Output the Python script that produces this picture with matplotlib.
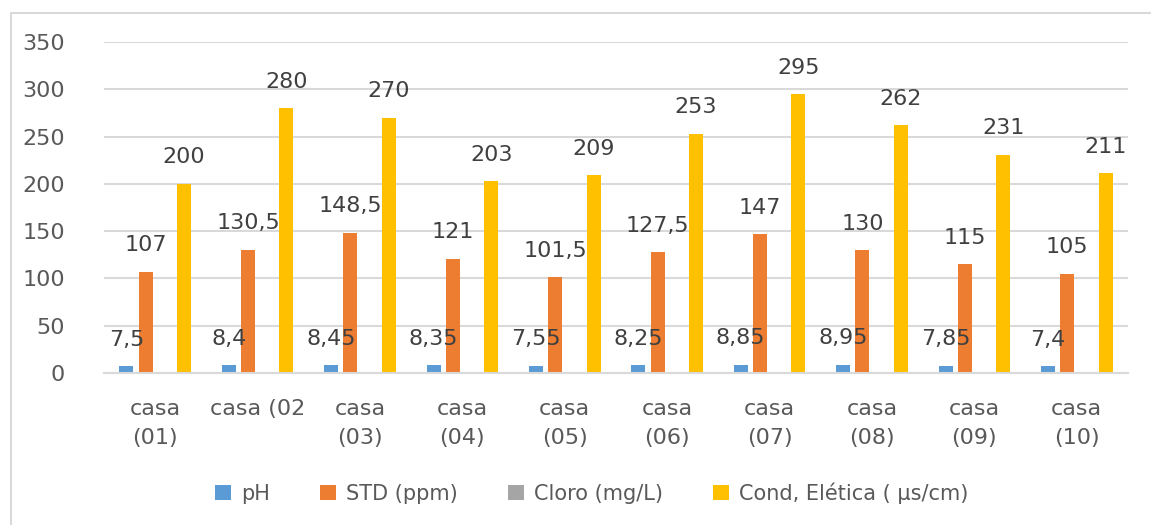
import numpy as np
import matplotlib.pyplot as plt
from matplotlib.lines import Line2D

plt.rcParams['font.family'] = ['DejaVu Sans']

categories = ['casa\n(01)', 'casa (02', 'casa\n(03)', 'casa\n(04)', 'casa\n(05)',
              'casa\n(06)', 'casa\n(07)', 'casa\n(08)', 'casa\n(09)', 'casa\n(10)']
ph = [7.5, 8.4, 8.45, 8.35, 7.55, 8.25, 8.85, 8.95, 7.85, 7.4]
std = [107, 130.5, 148.5, 121, 101.5, 127.5, 147, 130, 115, 105]
cloro = [np.nan] * 10
cond = [200, 280, 270, 203, 209, 253, 295, 262, 231, 211]

series = [('pH', ph, '#5B9BD5'),
          ('STD (ppm)', std, '#ED7D31'),
          ('Cloro (mg/L)', cloro, '#A5A5A5'),
          ('Cond, Elética ( µs/cm)', cond, '#FFC000')]


def fmt(v):
    s = ('%.2f' % v).rstrip('0').rstrip('.')
    return s.replace('.', ',')


fig = plt.figure(figsize=(11.51, 5.25), dpi=100)
# outer chart border (only left and top fall inside the image)
bx, by = 11 / 1151, 1 - 13 / 525
fig.lines.append(Line2D([bx, bx, 1.0], [0.0, by, by], transform=fig.transFigure,
                        color='#D9D9D9', linewidth=1.5))
ax = fig.add_axes([104 / 1151, 1 - 373 / 525, 1024 / 1151, 331 / 525])

x = np.arange(len(categories))
step = 0.188
width = 0.137
for i, (name, vals, col) in enumerate(series):
    pos = x + (i - 1.5) * step
    ax.bar(pos, vals, width, color=col, label=name)
    for p, v in zip(pos, vals):
        if np.isnan(v):
            continue
        ax.annotate(fmt(v), (p, v), xytext=(0, 19), textcoords='offset points',
                    ha='center', va='center', fontsize=16, color='#404040')

ax.set_xlim(-0.5, len(categories) - 0.5)
ax.set_ylim(0, 350)
ax.set_yticks(range(0, 351, 50))
ax.set_xticks(x)
ax.set_xticklabels(categories, linespacing=1.55)
ax.tick_params(axis='y', length=0, pad=28, labelsize=16, labelcolor='#595959')
ax.tick_params(axis='x', length=0, pad=19, labelsize=16, labelcolor='#595959')
ax.grid(axis='y', color='#D9D9D9', linewidth=1.5)
ax.set_axisbelow(True)
for s in ['top', 'right', 'left']:
    ax.spines[s].set_visible(False)
ax.spines['bottom'].set_color('#D9D9D9')
ax.spines['bottom'].set_linewidth(1.5)

fig.legend(loc='center', bbox_to_anchor=(592 / 1151, 1 - 493 / 525), ncol=4,
           frameon=False, fontsize=15, handlelength=0.75, handleheight=0.75,
           columnspacing=2.4, handletextpad=0.5, labelcolor='#595959')

fig.savefig('out.png', dpi=100)
